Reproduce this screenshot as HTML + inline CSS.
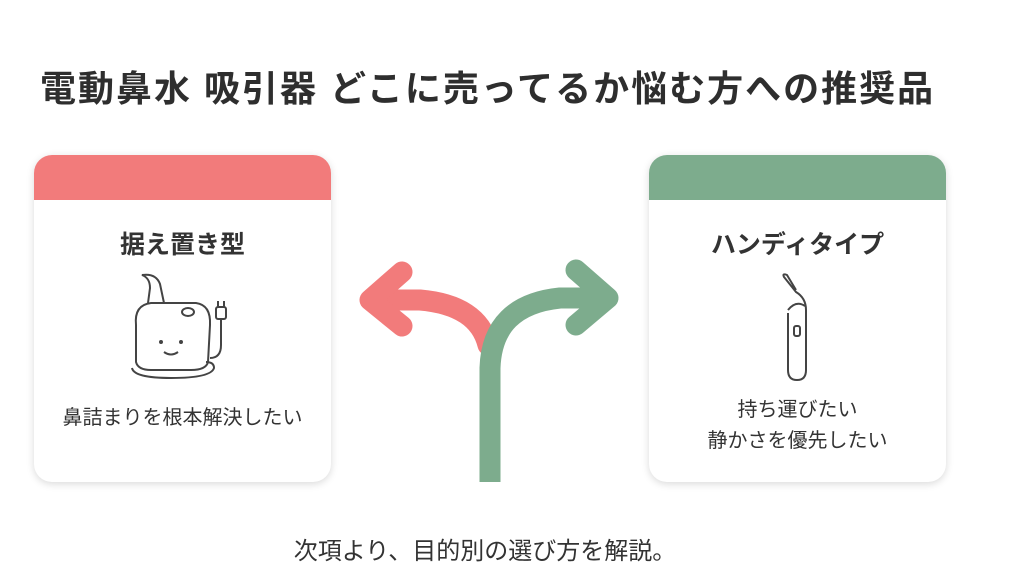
<!DOCTYPE html>
<html><head><meta charset="utf-8"><style>
body{margin:0;width:1024px;height:572px;background:#fff;overflow:hidden;position:relative;font-family:"Liberation Sans","Noto Sans CJK JP",sans-serif;color:#333}
.t{position:absolute;left:40px;top:60px;font-size:36px;font-weight:bold;color:#2e2e2e;white-space:nowrap;letter-spacing:2px}
.card{position:absolute;top:155px;width:297px;height:327px;border-radius:18px;background:#fff;box-shadow:0 2px 8px rgba(0,0,0,0.15);overflow:hidden}
.band{height:45px}
.h{position:absolute;width:100%;text-align:center;top:70px;font-size:25px;font-weight:bold;color:#333}
.p{position:absolute;width:100%;text-align:center;font-size:20px;color:#333;line-height:31px}
.b{position:absolute;left:0;width:970px;text-align:center;top:531px;font-size:24px;color:#333}
</style></head><body>
<div class="t">電動鼻水 吸引器 どこに売ってるか悩む方への推奨品</div>
<div class="card" style="left:34px"><div class="band" style="background:#f27b7b"></div>
<div class="h">据え置き型</div>
<svg style="position:absolute;left:92px;top:115px" width="120" height="115" fill="none" stroke="#444" stroke-width="2">
<path d="M10 55 Q8 35 25 33 L70 33 Q85 35 84 55 L82 92 Q80 100 65 100 L25 100 Q12 100 10 92 Z"/>
<path d="M6 98 Q8 108 45 108 Q85 108 88 98 Q88 92 80 92"/>
<path d="M22 33 L24 18 Q24 8 16 5 Q30 3 34 14 L38 33"/>
<ellipse cx="62" cy="42" rx="6" ry="4"/>
<path d="M84 88 Q95 88 95 75 L95 50"/><rect x="90" y="37" width="10" height="12" rx="2"/>
<path d="M92 37 V31 M98 37 V31"/>
<circle cx="35" cy="72" r="1" fill="#444"/><circle cx="55" cy="72" r="1" fill="#444"/>
<path d="M38 82 Q45 87 52 82"/></svg>
<div class="p" style="top:248px">鼻詰まりを根本解決したい</div></div>
<div class="card" style="left:649px"><div class="band" style="background:#7dac8d"></div>
<div class="h">ハンディタイプ</div>
<svg style="position:absolute;left:125px;top:115px" width="50" height="115" fill="none" stroke="#444" stroke-width="2">
<path d="M14 43 L14 100 Q14 110 23 110 Q32 110 32 100 L32 40 Q32 28 22 22 L10 7 Q8 3 13 5 L22 20"/>
<path d="M14 40 Q22 30 31 36"/><rect x="20" y="56" width="6" height="10" rx="2"/></svg>
<div class="p" style="top:240px">持ち運びたい<br>静かさを優先したい</div></div>
<svg style="position:absolute;left:0;top:0" width="1024" height="572" fill="none" stroke-linecap="round" stroke-linejoin="round">
<path d="M488 345 Q478 305 420 300 L372 300" stroke="#f27b7b" stroke-width="21"/>
<path d="M402 272 L370 300 L402 326" stroke="#f27b7b" stroke-width="21"/>
<path d="M490 482 L490 368 Q492 305 560 298 L605 298" stroke="#7dac8d" stroke-width="21" stroke-linecap="butt"/>
<path d="M576 270 L608 298 L576 325" stroke="#7dac8d" stroke-width="21"/>
</svg>
<div class="b">次項より、目的別の選び方を解説。</div>
</body></html>
